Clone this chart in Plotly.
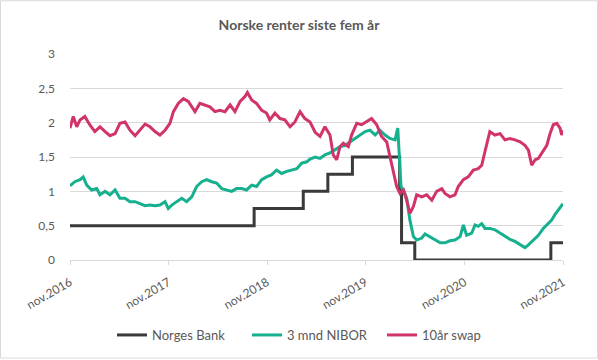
import plotly.graph_objects as go

# ---------------- data ----------------
nb_dates = ["2016-11-08", "2018-09-21", "2019-03-22", "2019-06-21", "2019-09-20",
            "2020-03-13", "2020-03-20", "2020-05-08", "2021-09-24", "2021-11-08"]
nb_vals = [0.5, 0.75, 1.0, 1.25, 1.5, 1.0, 0.25, 0.0, 0.25, 0.25]

nibor_dates = [
    "2016-11-08", "2016-11-26", "2016-12-15", "2016-12-27", "2017-01-09", "2017-01-27",
    "2017-02-15", "2017-02-27", "2017-03-18", "2017-04-05", "2017-04-24", "2017-05-12",
    "2017-05-31", "2017-06-18", "2017-07-07", "2017-07-25", "2017-08-13", "2017-08-31",
    "2017-09-19", "2017-10-07", "2017-10-26", "2017-11-07", "2017-11-20", "2017-12-08",
    "2017-12-27", "2018-01-14", "2018-02-02", "2018-02-08", "2018-02-20", "2018-03-11",
    "2018-03-29", "2018-04-17", "2018-05-05", "2018-05-24", "2018-06-11", "2018-06-30",
    "2018-07-18", "2018-08-06", "2018-08-24", "2018-09-12", "2018-09-30", "2018-10-19",
    "2018-11-06", "2018-11-24", "2018-12-13", "2019-01-01", "2019-01-20", "2019-02-07",
    "2019-02-26", "2019-03-16", "2019-04-04", "2019-04-16", "2019-05-05", "2019-05-23",
    "2019-06-10", "2019-06-29", "2019-07-17", "2019-08-05", "2019-08-24", "2019-09-11",
    "2019-09-30", "2019-10-18", "2019-11-06", "2019-11-24", "2019-12-13", "2019-12-31",
    "2020-01-19", "2020-02-06", "2020-02-25", "2020-03-06", "2020-03-11", "2020-03-18",
    "2020-03-27", "2020-04-08", "2020-04-20", "2020-05-03", "2020-05-15", "2020-06-03",
    "2020-06-15", "2020-07-03", "2020-07-22", "2020-08-10", "2020-08-28", "2020-09-15",
    "2020-10-04", "2020-10-23", "2020-11-04", "2020-11-16", "2020-12-05", "2020-12-17",
    "2020-12-29", "2021-01-11", "2021-01-23", "2021-02-10", "2021-03-01", "2021-03-20",
    "2021-04-07", "2021-04-26", "2021-05-14", "2021-06-02", "2021-06-20", "2021-07-03",
    "2021-07-21", "2021-08-09", "2021-08-27", "2021-09-09", "2021-09-27", "2021-10-09",
    "2021-10-22", "2021-11-03", "2021-11-08"]
nibor_vals = [
    1.08, 1.14, 1.17, 1.21, 1.09, 1.02,
    1.04, 0.95, 1.00, 0.95, 1.02, 0.90,
    0.90, 0.85, 0.85, 0.82, 0.79, 0.80,
    0.79, 0.80, 0.85, 0.75, 0.80, 0.85,
    0.90, 0.85, 0.92, 0.97, 1.07, 1.14,
    1.17, 1.14, 1.12, 1.04, 1.02, 1.00,
    1.04, 1.04, 1.02, 1.09, 1.07, 1.17,
    1.21, 1.24, 1.31, 1.26, 1.29, 1.31,
    1.33, 1.41, 1.43, 1.47, 1.50, 1.48,
    1.53, 1.56, 1.60, 1.65, 1.67, 1.72,
    1.77, 1.82, 1.87, 1.89, 1.82, 1.89,
    1.82, 1.77, 1.75, 1.92, 1.50, 1.07,
    1.02, 0.90, 0.58, 0.34, 0.29, 0.32,
    0.38, 0.34, 0.29, 0.25, 0.25, 0.28,
    0.29, 0.34, 0.51, 0.36, 0.39, 0.51,
    0.49, 0.53, 0.46, 0.46, 0.44, 0.39,
    0.34, 0.30, 0.27, 0.22, 0.18, 0.22,
    0.29, 0.36, 0.46, 0.51, 0.58, 0.66,
    0.73, 0.80, 0.82]

swap_dates = [
    "2016-11-08", "2016-11-20", "2016-12-03", "2016-12-15", "2017-01-02", "2017-01-20",
    "2017-02-08", "2017-02-27", "2017-03-18", "2017-04-05", "2017-04-24", "2017-05-12",
    "2017-05-31", "2017-06-18", "2017-07-07", "2017-07-25", "2017-08-13", "2017-08-31",
    "2017-09-19", "2017-10-07", "2017-10-26", "2017-11-13", "2017-11-26", "2017-12-14",
    "2018-01-02", "2018-01-20", "2018-02-01", "2018-02-14", "2018-03-04", "2018-03-23",
    "2018-04-10", "2018-04-29", "2018-05-17", "2018-06-05", "2018-06-24", "2018-07-12",
    "2018-07-31", "2018-08-18", "2018-08-27", "2018-09-12", "2018-09-30", "2018-10-19",
    "2018-11-06", "2018-11-18", "2018-12-07", "2018-12-26", "2019-01-13", "2019-02-01",
    "2019-02-19", "2019-03-10", "2019-03-28", "2019-04-16", "2019-05-05", "2019-05-23",
    "2019-06-10", "2019-06-29", "2019-07-11", "2019-07-24", "2019-08-05", "2019-08-17",
    "2019-09-05", "2019-09-17", "2019-10-06", "2019-10-24", "2019-11-12", "2019-11-30",
    "2019-12-19", "2020-01-06", "2020-01-25", "2020-02-06", "2020-02-19", "2020-03-02",
    "2020-03-14", "2020-03-27", "2020-04-08", "2020-04-20", "2020-05-03", "2020-05-15",
    "2020-06-03", "2020-06-21", "2020-07-10", "2020-07-28", "2020-08-16", "2020-08-28",
    "2020-09-15", "2020-10-04", "2020-10-16", "2020-11-04", "2020-11-22", "2020-12-11",
    "2020-12-29", "2021-01-11", "2021-01-23", "2021-02-04", "2021-02-10", "2021-03-01",
    "2021-03-20", "2021-04-07", "2021-04-26", "2021-05-14", "2021-06-02", "2021-06-20",
    "2021-07-03", "2021-07-15", "2021-07-28", "2021-08-09", "2021-08-27", "2021-09-09",
    "2021-09-21", "2021-10-03", "2021-10-16", "2021-10-28", "2021-11-03", "2021-11-08"]
swap_vals = [
    1.92, 2.09, 1.94, 2.04, 2.09, 1.97,
    1.87, 1.94, 1.87, 1.81, 1.84, 1.99,
    2.01, 1.89, 1.81, 1.89, 1.98, 1.94,
    1.87, 1.82, 1.89, 1.99, 2.16, 2.28,
    2.35, 2.31, 2.24, 2.16, 2.28, 2.26,
    2.23, 2.16, 2.18, 2.16, 2.26, 2.16,
    2.31, 2.38, 2.44, 2.33, 2.28, 2.18,
    2.14, 2.04, 2.14, 2.06, 2.04, 1.94,
    2.01, 2.16, 2.06, 2.01, 1.86, 1.80,
    1.94, 1.82, 1.53, 1.46, 1.65, 1.70,
    1.65, 1.82, 1.99, 1.97, 2.01, 2.06,
    1.97, 1.80, 1.72, 1.50, 1.26, 1.07,
    0.97, 1.02, 0.87, 0.68, 0.78, 0.95,
    0.92, 0.95, 0.87, 1.00, 1.04, 0.97,
    0.92, 0.95, 1.07, 1.17, 1.21, 1.31,
    1.33, 1.38, 1.58, 1.80, 1.87, 1.82,
    1.84, 1.75, 1.77, 1.75, 1.72, 1.67,
    1.60, 1.38, 1.46, 1.48, 1.58, 1.67,
    1.84, 1.97, 1.99, 1.92, 1.82, 1.89]

x_tick_vals = ["2016-11-08", "2017-11-08", "2018-11-08", "2019-11-08", "2020-11-08", "2021-11-08"]
x_tick_text = ["nov.2016", "nov.2017", "nov.2018", "nov.2019", "nov.2020", "nov.2021"]
y_tick_vals = [0, 0.5, 1, 1.5, 2, 2.5, 3]
y_tick_text = ["0", "0,5", "1", "1,5", "2", "2,5", "3"]

# ---------------- figure ----------------
FONT = "Lato"
GRAY_TXT = "#595959"
GRID = "#d9d9d9"

fig = go.Figure()
fig.add_trace(go.Scatter(x=nb_dates, y=nb_vals, mode="lines", name="Norges Bank",
                         line=dict(color="#3a3a3a", width=3, shape="hv")))
fig.add_trace(go.Scatter(x=nibor_dates, y=nibor_vals, mode="lines", name="3 mnd NIBOR",
                         line=dict(color="#16b08e", width=3)))
fig.add_trace(go.Scatter(x=swap_dates, y=swap_vals, mode="lines", name="10år swap",
                         line=dict(color="#d1346b", width=3)))

W, H = 598, 360
L, R, T, B = 70, 35, 54, 99
pw, ph = W - L - R, H - T - B

fig.update_layout(
    width=W, height=H,
    margin=dict(l=L, r=R, t=T, b=B, pad=0),
    paper_bgcolor="white", plot_bgcolor="white",
    font=dict(family=FONT, color=GRAY_TXT, size=12),
    title=dict(text="<b>Norske renter siste fem år</b>", x=0.5, xanchor="center",
               y=1 - 25 / H, yanchor="middle",
               font=dict(family=FONT, size=14, color=GRAY_TXT)),
    showlegend=True,
    legend=dict(orientation="h", x=(112 - L) / pw, xanchor="left", y=(ph - (335 - T)) / ph,
                yanchor="middle", font=dict(family=FONT, size=13, color=GRAY_TXT),
                bgcolor="rgba(0,0,0,0)", itemwidth=30,
                entrywidth=90, entrywidthmode="pixels"),
    xaxis=dict(type="date", range=[x_tick_vals[0], x_tick_vals[-1]],
               tickmode="array", tickvals=x_tick_vals, ticktext=x_tick_text,
               tickangle=-30, showgrid=False, showline=True, linecolor=GRID, linewidth=1,
               ticks="outside", ticklen=4, tickcolor=GRID, ticklabelstandoff=6,
               tickfont=dict(family=FONT, size=12, color=GRAY_TXT)),
    yaxis=dict(range=[0, 3], tickmode="array", tickvals=y_tick_vals, ticktext=y_tick_text,
               showgrid=True, gridcolor=GRID, gridwidth=1, zeroline=False,
               showline=False, ticks="", ticklabelstandoff=14,
               tickfont=dict(family=FONT, size=12, color=GRAY_TXT)),
)

# chart border
fig.add_shape(type="rect", xref="paper", yref="paper",
              x0=(0.5 - L) / pw, x1=(W - 0.5 - L) / pw,
              y0=(ph - (H - 0.5 - T)) / ph, y1=(ph - (0.5 - T)) / ph,
              line=dict(color=GRID, width=1), fillcolor="rgba(0,0,0,0)", layer="below")

fig.write_html("out.html", config={"displayModeBar": False},
               post_script="document.body.style.margin='0';document.body.style.padding='0';")
